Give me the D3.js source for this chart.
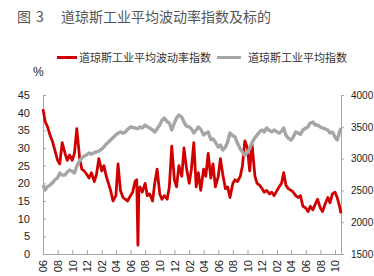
<!DOCTYPE html>
<html>
<head>
<meta charset="utf-8">
<script src="https://cdn.jsdelivr.net/npm/d3@7"></script>
<style>
  html, body { margin: 0; padding: 0; background: #fff; }
  svg { display: block; }
  text { font-family: "Liberation Sans", Arial, "Noto Sans CJK SC", sans-serif; }
  .cjk { font-family: "Noto Sans CJK SC", "Noto Sans", sans-serif; }
</style>
</head>
<body>
<svg id="chart" width="374" height="276"></svg>
<script>
const titleLabel = ["图", "3"];
const titleText = "道琼斯工业平均波动率指数及标的";
const seriesNames = ["道琼斯工业平均波动率指数", "道琼斯工业平均指数"];
const leftUnit = "%";

const dates = [
  "2006-06-01","2006-06-10","2006-06-20","2006-07-01","2006-07-10","2006-07-20",
  "2006-08-01","2006-08-10","2006-08-20","2006-09-01","2006-09-10","2006-09-20",
  "2006-10-01","2006-10-10","2006-10-20","2006-11-01","2006-11-10","2006-11-20",
  "2006-12-01","2006-12-10","2006-12-20","2007-01-01","2007-01-10","2007-01-20",
  "2007-02-01","2007-02-10","2007-02-20","2007-03-01","2007-03-10","2007-03-20",
  "2007-04-01","2007-04-10","2007-04-20","2007-05-01","2007-05-10","2007-05-20",
  "2007-06-01","2007-06-10","2007-06-20","2007-06-27","2007-07-02","2007-07-06",
  "2007-07-10","2007-07-20","2007-08-01","2007-08-10","2007-08-20","2007-09-01",
  "2007-09-10","2007-09-20","2007-10-01","2007-10-10","2007-10-20","2007-11-01",
  "2007-11-10","2007-11-20","2007-12-01","2007-12-10","2007-12-20","2008-01-01",
  "2008-01-10","2008-01-20","2008-02-01","2008-02-10","2008-02-20","2008-03-01",
  "2008-03-10","2008-03-20","2008-04-01","2008-04-10","2008-04-20","2008-05-01",
  "2008-05-10","2008-05-20","2008-06-01","2008-06-10","2008-06-20","2008-07-01",
  "2008-07-10","2008-07-20","2008-08-01","2008-08-10","2008-08-20","2008-09-01",
  "2008-09-10","2008-09-20","2008-10-01","2008-10-10","2008-10-20","2008-11-01",
  "2008-11-10","2008-11-20","2008-12-01","2008-12-10","2008-12-20","2009-01-01",
  "2009-01-10","2009-01-20","2009-02-01","2009-02-10","2009-02-20","2009-03-01",
  "2009-03-10","2009-03-20","2009-04-01","2009-04-10","2009-04-20","2009-05-01",
  "2009-05-10","2009-05-20","2009-06-01","2009-06-10","2009-06-20","2009-07-01",
  "2009-07-10","2009-07-20","2009-08-01","2009-08-10","2009-08-20","2009-09-01",
  "2009-09-10","2009-09-20","2009-10-01","2009-10-10","2009-10-20","2009-10-26"
];

const volatility = [
  41, 37.5, 36, 33.5, 32, 29.5,
  26.5, 25.5, 31.5, 28.5, 26.5, 28,
  26.5, 28.5, 35.5, 27, 24, 23.5,
  22.5, 21.5, 23, 20.5, 22.5, 27,
  23.5, 25, 22, 20, 18, 15,
  16.5, 25.5, 18, 16, 15.5, 15,
  16.5, 17.5, 20.5, 21, 2.5, 18.5,
  19, 17.5, 20, 16.5, 17, 15,
  20, 24, 17, 15.5, 16.5, 15.5,
  19, 30.5, 21, 19, 25, 22,
  30, 24.5, 20, 24, 31.5, 19,
  23, 18, 24, 22, 28.5, 21.5,
  25.5, 19, 22, 27, 22.5, 18.5,
  19, 16, 20, 21, 20.5, 22,
  25, 32, 30, 23.5, 31, 22,
  20, 19.5, 18.5, 17.5, 18, 17,
  17.5, 16.5, 18, 19, 20, 23,
  19.5, 18.5, 18, 17.5, 16.5, 16,
  16.5, 13.5, 13, 12, 13.5, 12.5,
  14, 15.5, 13, 12, 14, 16,
  14.5, 17, 17.5, 16, 13.5, 11.5
];

const djia = [
  2585, 2506, 2560, 2585, 2620, 2663,
  2700, 2773, 2740, 2742, 2790, 2820,
  2800, 2773, 2880, 2970, 3010, 3040,
  3060, 3088, 3070, 3095, 3104, 3120,
  3150, 3182, 3230, 3260, 3292, 3330,
  3371, 3400, 3418, 3400, 3418, 3460,
  3497, 3490, 3481, 3475, 3470, 3480,
  3497, 3481, 3528, 3500, 3481, 3450,
  3418, 3470, 3528, 3600, 3638, 3580,
  3560, 3450, 3560, 3638, 3686, 3650,
  3575, 3510, 3497, 3470, 3402, 3450,
  3497, 3460, 3371, 3400, 3418, 3300,
  3310, 3260, 3182, 3214, 3135, 3180,
  3261, 3402, 3360, 3340, 3245, 3150,
  3104, 3050, 3100, 3160, 3250, 3330,
  3370, 3420, 3450, 3420, 3481, 3440,
  3420, 3450, 3420, 3400, 3430, 3481,
  3371, 3320, 3292, 3340, 3418, 3400,
  3380, 3450, 3480, 3497, 3560, 3575,
  3528, 3528, 3497, 3481, 3470, 3450,
  3402, 3418, 3340, 3292, 3420, 3481
];

const xTickLabels = [
  "2006-06","2006-08","2006-10","2006-12","2007-02","2007-04","2007-06",
  "2007-08","2007-10","2007-12","2008-02","2008-04","2008-06","2008-08",
  "2008-10","2008-12","2009-02","2009-04","2009-06","2009-08","2009-10"
];
const leftTicks = [0, 5, 10, 15, 20, 25, 30, 35, 40, 45];
const rightTicks = [1500, 2000, 2500, 3000, 3500, 4000];
const xDomain = ["2006-06-01", "2009-10-26"];

const parse = d3.timeParse("%Y-%m-%d");
const parseM = d3.timeParse("%Y-%m");
const data = dates.map((d, i) => ({ date: parse(d), vol: volatility[i], idx: djia[i] }));

const svg = d3.select("#chart");
const plotLeft = 43, plotRight = 341, plotTop = 95, plotBottom = 254;

const x = d3.scaleTime().domain(xDomain.map(parse)).range([plotLeft, plotRight]);
const yL = d3.scaleLinear().domain([0, 45]).range([plotBottom, plotTop]);
const yR = d3.scaleLinear().domain([1500, 4000]).range([plotBottom, plotTop]);

const axisColor = "#a6a6a6";
const labelColor = "#222";

// Title
const title = svg.append("text").attr("class", "cjk").attr("y", 22)
  .attr("font-size", 14).attr("fill", "#555");
title.append("tspan").attr("x", 17).text(titleLabel[0]);
title.append("tspan").attr("x", 36).text(titleLabel[1]);
title.append("tspan").attr("x", 61).text(titleText);

// Legend
const legendColors = ["#d10000", "#a6a6a6"];
const legendX = [57, 217];
seriesNames.forEach((n, i) => {
  svg.append("line").attr("x1", legendX[i]).attr("x2", legendX[i] + (i === 0 ? 20 : 24))
    .attr("y1", 57.5).attr("y2", 57.5).attr("stroke", legendColors[i]).attr("stroke-width", 3);
  svg.append("text").attr("class", "cjk").attr("x", legendX[i] + (i === 0 ? 22 : 31)).attr("y", 62)
    .attr("font-size", 11).attr("fill", "#333").text(n);
});

// unit
svg.append("text").attr("x", 33).attr("y", 76).attr("font-size", 12).attr("fill", labelColor).text(leftUnit);

// Left axis
const gL = svg.append("g").attr("transform", `translate(${plotLeft},0)`)
  .call(d3.axisLeft(yL).tickValues(leftTicks).tickSizeInner(-3).tickSizeOuter(0).tickPadding(13));
gL.select(".domain").attr("stroke", axisColor);
gL.selectAll(".tick line").attr("stroke", axisColor);
gL.selectAll(".tick text").attr("font-size", 11).attr("fill", labelColor)
  .attr("font-family", "Liberation Sans, Arial, sans-serif");

// Right axis
const gR = svg.append("g").attr("transform", `translate(${plotRight},0)`)
  .call(d3.axisRight(yR).tickValues(rightTicks).tickFormat(d3.format("d"))
    .tickSizeInner(3).tickSizeOuter(0).tickPadding(7));
gR.select(".domain").attr("stroke", axisColor);
gR.selectAll(".tick line").attr("stroke", axisColor);
gR.selectAll(".tick text").attr("font-size", 10).attr("fill", labelColor)
  .attr("font-family", "Liberation Sans, Arial, sans-serif");

// X axis
const gX = svg.append("g").attr("transform", `translate(0,${plotBottom})`)
  .call(d3.axisBottom(x).tickValues(xTickLabels.map(parseM)).tickFormat(d3.timeFormat("%m"))
    .tickSizeInner(-4).tickSizeOuter(0));
gX.select(".domain").attr("stroke", axisColor);
gX.selectAll(".tick line").attr("stroke", axisColor);
gX.selectAll(".tick text")
  .attr("font-size", 11).attr("fill", labelColor)
  .attr("font-family", "Liberation Sans, Arial, sans-serif")
  .attr("transform", "rotate(-90)")
  .attr("text-anchor", "end")
  .attr("x", -6).attr("y", 0).attr("dy", "0.35em");

// Lines
const lineVol = d3.line().x(d => x(d.date)).y(d => yL(d.vol));
const lineIdx = d3.line().x(d => x(d.date)).y(d => yR(d.idx));

svg.append("path").datum(data).attr("d", lineVol).attr("fill", "none")
  .attr("stroke", "#d10000").attr("stroke-width", 2.8).attr("stroke-linejoin", "round");
svg.append("path").datum(data).attr("d", lineIdx).attr("fill", "none")
  .attr("stroke", "#a6a6a6").attr("stroke-width", 3.4).attr("stroke-linejoin", "round");
</script>
</body>
</html>
